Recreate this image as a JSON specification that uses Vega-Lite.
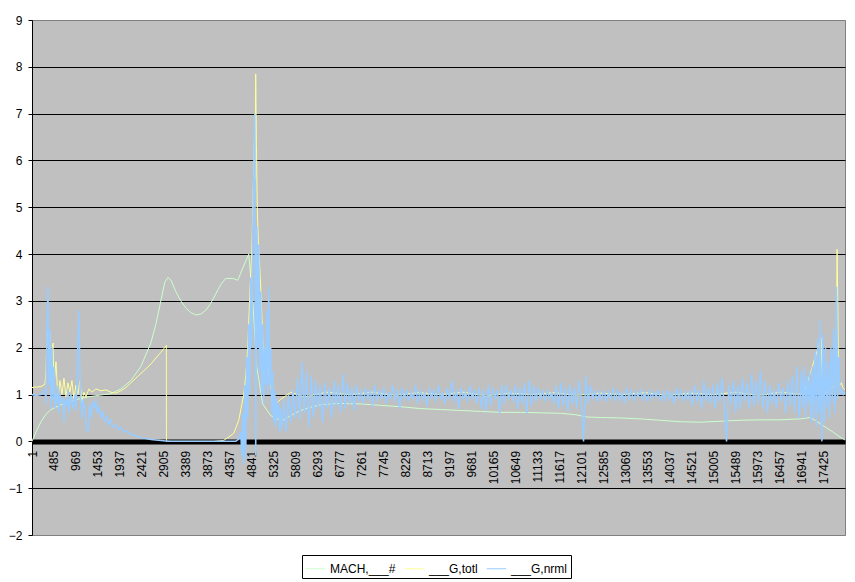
{
  "$schema": "https://vega.github.io/schema/vega-lite/v6.json",
  "width": 813,
  "height": 515,
  "autosize": {"type": "none"},
  "padding": {"left": 32, "top": 20, "right": 10, "bottom": 47},
  "background": "white",
  "config": {"view": {"fill": "#C0C0C0", "stroke": "#808080", "strokeWidth": 1}},
  "datasets": {
    "mach": [
      {"x":1,"y":0.0},{"x":89,"y":0.2},{"x":199,"y":0.42},{"x":309,"y":0.58},{"x":419,"y":0.68},{"x":639,"y":0.78},{"x":859,"y":0.85},{"x":1079,"y":0.92},{"x":1299,"y":0.96},{"x":1519,"y":0.99},{"x":1739,"y":1.02},{"x":1959,"y":1.12},{"x":2179,"y":1.3},{"x":2399,"y":1.6},{"x":2619,"y":2.1},{"x":2729,"y":2.5},{"x":2839,"y":3.0},{"x":2927,"y":3.4},{"x":2993,"y":3.5},{"x":3059,"y":3.45},{"x":3169,"y":3.2},{"x":3279,"y":3.0},{"x":3389,"y":2.85},{"x":3499,"y":2.75},{"x":3609,"y":2.7},{"x":3719,"y":2.72},{"x":3829,"y":2.8},{"x":3939,"y":2.95},{"x":4049,"y":3.15},{"x":4159,"y":3.35},{"x":4269,"y":3.48},{"x":4423,"y":3.48},{"x":4533,"y":3.44},{"x":4643,"y":3.7},{"x":4775,"y":4.0},{"x":4863,"y":3.0},{"x":4951,"y":1.6},{"x":5083,"y":0.8},{"x":5259,"y":0.55},{"x":5391,"y":0.48},{"x":5523,"y":0.45},{"x":5699,"y":0.55},{"x":5919,"y":0.66},{"x":6139,"y":0.73},{"x":6359,"y":0.78},{"x":6579,"y":0.8},{"x":6799,"y":0.81},{"x":7239,"y":0.8},{"x":7679,"y":0.77},{"x":8119,"y":0.74},{"x":8559,"y":0.7},{"x":8999,"y":0.68},{"x":9439,"y":0.66},{"x":9879,"y":0.64},{"x":10319,"y":0.62},{"x":10759,"y":0.62},{"x":11199,"y":0.61},{"x":11639,"y":0.6},{"x":11969,"y":0.57},{"x":12233,"y":0.52},{"x":12519,"y":0.51},{"x":12959,"y":0.5},{"x":13399,"y":0.48},{"x":13839,"y":0.45},{"x":14279,"y":0.42},{"x":14719,"y":0.41},{"x":15159,"y":0.43},{"x":15599,"y":0.45},{"x":16039,"y":0.46},{"x":16479,"y":0.46},{"x":16919,"y":0.48},{"x":17139,"y":0.51},{"x":17249,"y":0.45},{"x":17359,"y":0.38},{"x":17513,"y":0.28},{"x":17645,"y":0.2},{"x":17755,"y":0.12},{"x":17909,"y":0.03}
    ],
    "gtotl": [
      {"x":1,"y":1.15},{"x":89,"y":1.16},{"x":199,"y":1.17},{"x":287,"y":1.22},{"x":309,"y":1.5},{"x":331,"y":2.2},{"x":353,"y":2.6},{"x":375,"y":1.8},{"x":397,"y":2.3},{"x":419,"y":1.4},{"x":463,"y":2.1},{"x":485,"y":1.2},{"x":529,"y":1.7},{"x":573,"y":0.9},{"x":617,"y":1.3},{"x":661,"y":1.0},{"x":705,"y":1.35},{"x":749,"y":0.95},{"x":793,"y":1.25},{"x":837,"y":1.05},{"x":881,"y":1.3},{"x":925,"y":0.9},{"x":969,"y":1.2},{"x":1013,"y":1.0},{"x":1057,"y":1.3},{"x":1101,"y":0.85},{"x":1145,"y":1.05},{"x":1189,"y":0.95},{"x":1255,"y":1.12},{"x":1321,"y":1.05},{"x":1409,"y":1.12},{"x":1519,"y":1.08},{"x":1629,"y":1.1},{"x":1739,"y":1.05},{"x":1849,"y":1.03},{"x":1959,"y":1.08},{"x":2069,"y":1.15},{"x":2179,"y":1.25},{"x":2289,"y":1.35},{"x":2399,"y":1.45},{"x":2509,"y":1.55},{"x":2619,"y":1.65},{"x":2729,"y":1.78},{"x":2839,"y":1.9},{"x":2960,"y":2.05},{"x":2962,"y":0.0},{"x":3100,"y":0.0},{"x":4000,"y":0.0},{"x":4225,"y":0.02},{"x":4445,"y":0.17},{"x":4555,"y":0.45},{"x":4665,"y":1.0},{"x":4710,"y":1.4},{"x":4753,"y":2.0},{"x":4797,"y":3.1},{"x":4841,"y":4.0},{"x":4863,"y":4.9},{"x":4885,"y":5.8},{"x":4899,"y":6.4},{"x":4910,"y":5.6},{"x":4929,"y":7.85},{"x":4945,"y":6.3},{"x":4965,"y":4.9},{"x":4990,"y":4.2},{"x":5030,"y":3.5},{"x":5080,"y":2.3},{"x":5120,"y":1.7},{"x":5170,"y":2.1},{"x":5210,"y":1.5},{"x":5260,"y":1.2},{"x":5300,"y":0.9},{"x":5370,"y":0.8},{"x":5480,"y":0.9},{"x":5700,"y":1.05},{"x":6000,"y":0.95},{"x":6500,"y":1.05},{"x":7000,"y":1.0},{"x":7500,"y":1.05},{"x":8000,"y":0.98},{"x":8500,"y":1.04},{"x":9000,"y":1.0},{"x":9500,"y":1.05},{"x":10000,"y":0.97},{"x":10500,"y":1.03},{"x":11000,"y":1.0},{"x":11500,"y":1.04},{"x":12000,"y":0.98},{"x":12500,"y":1.03},{"x":13000,"y":1.0},{"x":13500,"y":1.04},{"x":14000,"y":0.98},{"x":14500,"y":1.03},{"x":15000,"y":1.0},{"x":15500,"y":1.05},{"x":16000,"y":0.98},{"x":16500,"y":1.05},{"x":17000,"y":1.0},{"x":17380,"y":2.2},{"x":17420,"y":1.0},{"x":17700,"y":1.2},{"x":17720,"y":2.5},{"x":17735,"y":4.1},{"x":17750,"y":3.0},{"x":17765,"y":1.4},{"x":17800,"y":1.2},{"x":17830,"y":1.25},{"x":17860,"y":1.15},{"x":17905,"y":1.1}
    ],
    "gnrml": [
      {"x":1,"y":1.0},{"x":89,"y":0.98},{"x":199,"y":1.0},{"x":287,"y":1.1},{"x":309,"y":0.8},{"x":331,"y":2.5},{"x":353,"y":3.3},{"x":375,"y":1.2},{"x":397,"y":2.4},{"x":419,"y":0.7},{"x":441,"y":2.0},{"x":463,"y":0.9},{"x":485,"y":1.6},{"x":507,"y":0.7},{"x":529,"y":1.0},{"x":551,"y":0.8},{"x":573,"y":1.2},{"x":595,"y":0.6},{"x":617,"y":1.0},{"x":639,"y":0.85},{"x":683,"y":0.9},{"x":705,"y":0.4},{"x":727,"y":0.9},{"x":771,"y":0.75},{"x":793,"y":1.1},{"x":815,"y":0.6},{"x":859,"y":1.0},{"x":903,"y":0.7},{"x":947,"y":1.0},{"x":969,"y":0.65},{"x":991,"y":1.2},{"x":1013,"y":2.2},{"x":1035,"y":2.8},{"x":1057,"y":1.4},{"x":1079,"y":0.8},{"x":1101,"y":0.5},{"x":1123,"y":0.9},{"x":1167,"y":0.7},{"x":1189,"y":0.35},{"x":1211,"y":0.25},{"x":1233,"y":0.2},{"x":1255,"y":0.6},{"x":1277,"y":0.8},{"x":1299,"y":0.5},{"x":1343,"y":0.85},{"x":1387,"y":0.7},{"x":1409,"y":0.9},{"x":1431,"y":0.6},{"x":1475,"y":0.75},{"x":1519,"y":0.5},{"x":1563,"y":0.65},{"x":1607,"y":0.4},{"x":1651,"y":0.55},{"x":1695,"y":0.35},{"x":1739,"y":0.45},{"x":1783,"y":0.3},{"x":1849,"y":0.35},{"x":1915,"y":0.25},{"x":1959,"y":0.3},{"x":2025,"y":0.2},{"x":2091,"y":0.22},{"x":2179,"y":0.15},{"x":2289,"y":0.12},{"x":2399,"y":0.08},{"x":2509,"y":0.06},{"x":2619,"y":0.04},{"x":2729,"y":0.03},{"x":2839,"y":0.02},{"x":2949,"y":0.01},{"x":3059,"y":0.0},{"x":4489,"y":0.0},{"x":4555,"y":0.05},{"x":4599,"y":0.2},{"x":4621,"y":-0.3},{"x":4643,"y":0.6},{"x":4665,"y":-0.5},{"x":4687,"y":1.2},{"x":4709,"y":-0.4},{"x":4731,"y":1.8},{"x":4753,"y":0.5},{"x":4775,"y":2.5},{"x":4797,"y":1.0},{"x":4819,"y":3.5},{"x":4841,"y":2.0},{"x":4863,"y":4.5},{"x":4885,"y":5.5},{"x":4907,"y":7.0},{"x":4929,"y":-0.3},{"x":4951,"y":4.6},{"x":4973,"y":2.0},{"x":4995,"y":4.2},{"x":5017,"y":1.5},{"x":5039,"y":3.2},{"x":5061,"y":1.0},{"x":5083,"y":2.5},{"x":5105,"y":0.8},{"x":5127,"y":2.0},{"x":5149,"y":1.2},{"x":5171,"y":2.8},{"x":5193,"y":1.0},{"x":5215,"y":3.3},{"x":5237,"y":1.2},{"x":5259,"y":2.0},{"x":5281,"y":0.6},{"x":5303,"y":1.5},{"x":5325,"y":0.4},{"x":5347,"y":1.1},{"x":5369,"y":0.3},{"x":5391,"y":0.9},{"x":5413,"y":0.5},{"x":5435,"y":0.8},{"x":5457,"y":0.2},{"x":5479,"y":0.7},
      {"x":5500,"y":0.25},{"x":5550,"y":0.9},{"x":5600,"y":0.2},{"x":5650,"y":1.0},{"x":5700,"y":0.4},{"x":5750,"y":1.1},{"x":5800,"y":0.5},{"x":5850,"y":1.35},{"x":5900,"y":0.45},{"x":5950,"y":1.7},{"x":6000,"y":0.6},{"x":6050,"y":1.5},{"x":6100,"y":0.3},{"x":6150,"y":1.4},{"x":6200,"y":0.5},{"x":6250,"y":1.3},{"x":6300,"y":0.7},{"x":6350,"y":1.2},{"x":6400,"y":0.4},{"x":6450,"y":1.25},{"x":6500,"y":0.7},{"x":6550,"y":1.15},{"x":6600,"y":0.5},{"x":6650,"y":1.3},{"x":6700,"y":0.75},{"x":6750,"y":1.2},{"x":6800,"y":0.6},{"x":6850,"y":1.45},{"x":6900,"y":0.7},{"x":6950,"y":1.25},{"x":7000,"y":0.8},{"x":7050,"y":1.15},{"x":7100,"y":0.65},{"x":7150,"y":1.2},{"x":7200,"y":0.85},{"x":7250,"y":1.1},{"x":7300,"y":0.8},{"x":7350,"y":1.15},{"x":7400,"y":0.9},{"x":7450,"y":1.1},{"x":7500,"y":0.75},{"x":7550,"y":1.2},{"x":7600,"y":0.85},{"x":7650,"y":1.1},{"x":7700,"y":0.9},{"x":7750,"y":1.15},{"x":7800,"y":0.8},{"x":7850,"y":1.05},{"x":7900,"y":0.9},{"x":7950,"y":1.2},{"x":8000,"y":0.85},{"x":8050,"y":1.1},{"x":8100,"y":0.7},{"x":8150,"y":1.15},{"x":8200,"y":0.9},{"x":8250,"y":1.1},{"x":8300,"y":0.85},{"x":8350,"y":1.05},{"x":8400,"y":0.9},{"x":8450,"y":1.2},{"x":8500,"y":0.8},{"x":8550,"y":1.1},{"x":8600,"y":0.9},{"x":8650,"y":1.05},{"x":8700,"y":0.75},{"x":8750,"y":1.15},{"x":8800,"y":0.9},{"x":8850,"y":1.1},{"x":8900,"y":0.85},{"x":8950,"y":1.2},{"x":9000,"y":0.9},{"x":9050,"y":1.05},{"x":9100,"y":0.8},{"x":9150,"y":1.15},{"x":9200,"y":0.9},{"x":9250,"y":1.3},{"x":9300,"y":0.85},{"x":9350,"y":1.1},{"x":9400,"y":0.7},{"x":9450,"y":1.15},{"x":9500,"y":0.9},{"x":9550,"y":1.05},{"x":9600,"y":0.85},{"x":9650,"y":1.2},{"x":9700,"y":0.9},{"x":9750,"y":1.1},{"x":9800,"y":0.8},{"x":9850,"y":1.15},{"x":9900,"y":0.7},{"x":9950,"y":1.1},{"x":10000,"y":0.65},{"x":10050,"y":1.2},{"x":10100,"y":0.75},{"x":10150,"y":1.15},{"x":10200,"y":0.9},{"x":10250,"y":1.1},{"x":10300,"y":0.6},{"x":10350,"y":1.2},{"x":10400,"y":0.8},{"x":10450,"y":1.2},{"x":10500,"y":0.9},{"x":10550,"y":1.1},{"x":10600,"y":0.85},{"x":10650,"y":1.2},{"x":10700,"y":0.7},{"x":10750,"y":1.15},{"x":10800,"y":0.8},{"x":10850,"y":1.25},{"x":10900,"y":0.6},{"x":10950,"y":1.3},{"x":11000,"y":0.75},{"x":11050,"y":1.2},{"x":11100,"y":0.85},{"x":11150,"y":1.15},{"x":11200,"y":0.9},{"x":11250,"y":1.1},{"x":11300,"y":0.85},{"x":11350,"y":1.1},{"x":11400,"y":0.9},{"x":11450,"y":1.05},{"x":11500,"y":0.8},{"x":11550,"y":1.2},{"x":11600,"y":0.7},{"x":11650,"y":1.25},{"x":11700,"y":0.75},{"x":11750,"y":1.15},{"x":11800,"y":0.65},{"x":11850,"y":1.2},{"x":11900,"y":0.8},{"x":11950,"y":1.15},{"x":12000,"y":0.7},{"x":12050,"y":1.3},{"x":12100,"y":0.9},{"x":12150,"y":0.0},{"x":12200,"y":1.4},{"x":12250,"y":0.8},{"x":12300,"y":1.2},{"x":12350,"y":0.9},{"x":12400,"y":1.1},{"x":12450,"y":0.85},{"x":12500,"y":1.05},{"x":12550,"y":0.9},{"x":12600,"y":1.1},{"x":12650,"y":0.85},{"x":12700,"y":1.05},{"x":12750,"y":0.9},{"x":12800,"y":1.15},{"x":12850,"y":0.85},{"x":12900,"y":1.1},{"x":12950,"y":0.9},{"x":13000,"y":1.05},{"x":13050,"y":0.8},{"x":13100,"y":1.15},{"x":13150,"y":0.9},{"x":13200,"y":1.1},{"x":13250,"y":0.85},{"x":13300,"y":1.05},{"x":13350,"y":0.95},{"x":13400,"y":1.1},{"x":13450,"y":0.9},{"x":13500,"y":1.05},{"x":13550,"y":0.85},{"x":13600,"y":1.1},{"x":13650,"y":0.9},{"x":13700,"y":1.05},{"x":13750,"y":0.95},{"x":13800,"y":1.1},{"x":13850,"y":0.85},{"x":13900,"y":1.05},{"x":13950,"y":0.9},{"x":14000,"y":1.1},{"x":14050,"y":0.9},{"x":14100,"y":1.05},{"x":14150,"y":0.8},{"x":14200,"y":1.15},{"x":14250,"y":0.9},{"x":14300,"y":1.1},{"x":14350,"y":0.85},{"x":14400,"y":1.05},{"x":14450,"y":0.9},{"x":14500,"y":1.1},{"x":14550,"y":0.75},{"x":14600,"y":1.2},{"x":14650,"y":0.85},{"x":14700,"y":1.1},{"x":14750,"y":0.7},{"x":14800,"y":1.3},{"x":14850,"y":0.85},{"x":14900,"y":1.15},{"x":14950,"y":0.8},{"x":15000,"y":1.2},{"x":15050,"y":0.7},{"x":15100,"y":1.25},{"x":15150,"y":0.85},{"x":15200,"y":1.35},{"x":15250,"y":0.75},{"x":15300,"y":0.0},{"x":15350,"y":1.2},{"x":15400,"y":0.8},{"x":15450,"y":1.3},{"x":15500,"y":0.6},{"x":15550,"y":1.2},{"x":15600,"y":0.7},{"x":15650,"y":1.35},{"x":15700,"y":0.85},{"x":15750,"y":1.25},{"x":15800,"y":0.7},{"x":15850,"y":1.45},{"x":15900,"y":0.75},{"x":15950,"y":1.3},{"x":16000,"y":0.8},{"x":16050,"y":1.5},{"x":16100,"y":0.7},{"x":16150,"y":1.3},{"x":16200,"y":0.6},{"x":16250,"y":1.2},{"x":16300,"y":0.8},{"x":16350,"y":1.1},{"x":16400,"y":0.7},{"x":16450,"y":1.25},{"x":16500,"y":0.85},{"x":16550,"y":1.15},{"x":16600,"y":0.6},{"x":16650,"y":1.3},{"x":16700,"y":0.75},{"x":16750,"y":1.4},{"x":16800,"y":0.6},{"x":16850,"y":1.6},{"x":16900,"y":0.5},
      {"x":16950,"y":1.5},{"x":16980,"y":0.7},{"x":17010,"y":1.6},{"x":17040,"y":0.5},{"x":17070,"y":1.4},{"x":17100,"y":0.8},{"x":17130,"y":1.5},{"x":17160,"y":0.4},{"x":17190,"y":1.6},{"x":17220,"y":0.5},{"x":17250,"y":1.9},{"x":17280,"y":0.3},{"x":17310,"y":2.2},{"x":17340,"y":0.6},{"x":17360,"y":2.6},{"x":17380,"y":0.8},{"x":17400,"y":0.0},{"x":17420,"y":2.3},{"x":17450,"y":0.4},{"x":17480,"y":2.0},{"x":17510,"y":0.7},{"x":17540,"y":1.7},{"x":17570,"y":0.5},{"x":17600,"y":2.0},{"x":17630,"y":0.8},{"x":17660,"y":2.4},{"x":17690,"y":0.6},{"x":17720,"y":3.3},{"x":17745,"y":0.9},{"x":17770,"y":1.8},{"x":17800,"y":1.0},{"x":17840,"y":1.1},{"x":17870,"y":1.0},{"x":17905,"y":1.05}
    ]
  },
  "encoding": {
    "x": {
      "field": "x", "type": "quantitative",
      "scale": {"domain": [1, 17909], "nice": false, "zero": false},
      "axis": {
        "title": null,
        "values": [1,485,969,1453,1937,2421,2905,3389,3873,4357,4841,5325,5809,6293,6777,7261,7745,8229,8713,9197,9681,10165,10649,11133,11617,12101,12585,13069,13553,14037,14521,15005,15489,15973,16457,16941,17425],
        "format": "d",
        "labelAngle": -90,
        "labelOverlap": false,
        "labelFlush": false,
        "offset": -93.6,
        "domainWidth": 5,
        "domainColor": "black",
        "ticks": false,
        "grid": false,
        "labelFont": "Liberation Sans",
        "labelFontSize": 12,
        "labelColor": "black",
        "labelPadding": 9
      }
    },
    "y": {
      "field": "y", "type": "quantitative",
      "scale": {"domain": [-2, 9], "nice": false, "zero": false},
      "axis": {
        "title": null,
        "values": [-2,-1,0,1,2,3,4,5,6,7,8,9],
        "grid": true,
        "gridColor": {"condition": {"test": "datum.value === 9 || datum.value === -2", "value": "#808080"}, "value": "black"},
        "gridOpacity": 1,
        "domainColor": "black",
        "tickColor": "black",
        "tickSize": 4,
        "labelFont": "Liberation Sans",
        "labelFontSize": 12,
        "labelColor": "black",
        "labelPadding": 6
      }
    }
  },
  "layer": [
    {
      "data": {"name": "mach"},
      "mark": {"type": "line", "strokeWidth": 1},
      "encoding": {
        "color": {
          "datum": "MACH,___#", "type": "nominal",
          "scale": {"domain": ["MACH,___#", "___G,totl", "___G,nrml"], "range": ["#CCFFCC", "#FFFF99", "#99CCFF"]},
          "legend": {"title": null, "orient": "none", "legendX": 270, "legendY": 535, "direction": "horizontal", "symbolType": "stroke", "symbolSize": 380, "symbolStrokeWidth": 1, "labelFont": "Liberation Sans", "labelFontSize": 12, "labelColor": "black", "labelOffset": 4, "fillColor": "white", "strokeColor": "black", "padding": 3, "columnPadding": 6}
        }
      }
    },
    {
      "data": {"name": "gtotl"},
      "mark": {"type": "line", "strokeWidth": 1},
      "encoding": {"color": {"datum": "___G,totl", "type": "nominal"}}
    },
    {
      "data": {"name": "gnrml"},
      "mark": {"type": "line", "strokeWidth": 1.5},
      "encoding": {"color": {"datum": "___G,nrml", "type": "nominal"}}
    }
  ]
}
